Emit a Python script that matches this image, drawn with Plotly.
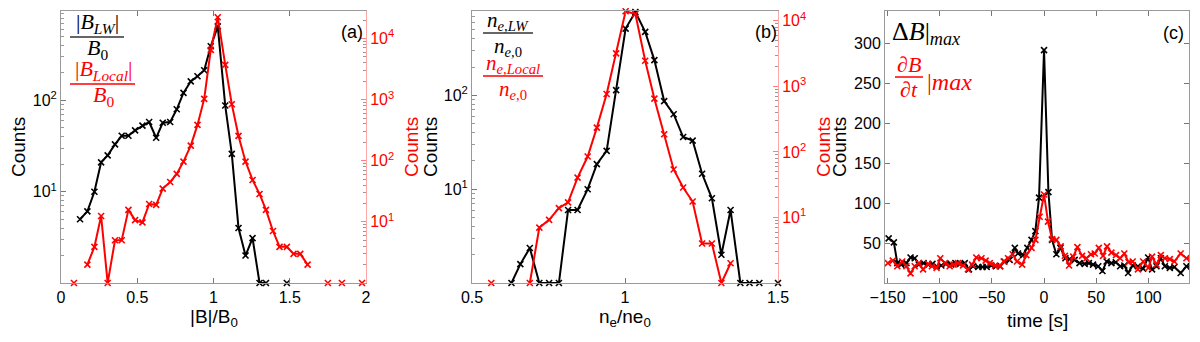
import plotly.graph_objects as go

W, H = 1200, 342
OFF = 8  # page body margin shifts the plot div by 8 px
RED = "#ff0000"
SANS = "Liberation Sans, Arial, sans-serif"
SERIF = "Liberation Serif, DejaVu Serif, serif"

# ---- panel (a): |B|/B0 histograms (None = empty bin, not drawn on log axis)
b_bins = [0.085, 0.125, 0.173, 0.219, 0.263, 0.306, 0.354, 0.398, 0.442, 0.486,
          0.534, 0.578, 0.624, 0.667, 0.716, 0.759, 0.803, 0.851, 0.895, 0.939,
          0.982, 1.028, 1.077, 1.12, 1.164, 1.21, 1.256, 1.302, 1.344, 1.39,
          1.433, 1.481, 1.525, 1.569, 1.617, 1.66, 1.705, 1.75, 1.795, 1.842,
          1.885, 1.93, 1.974]
b_lw_counts = [None, 5.0, 6.1, 10, 21, 25, 33, 41, 41, 47,
               53, 58, 39, 57, 58, 80, 121, 162, 184, 214,
               392, 647, 88, 26, 4.0, 2.0, 3.1, 1, 1, None,
               None, 1, None, None, None, None, None, None, None, None,
               None, None, None]
b_local_counts = [1, None, 2.0, 3.9, 12.5, 1, 5, 5, 15.7, 10.7,
                  9.8, 19.6, 19, 35, 45, 61, 97, 177, 386, 1027,
                  6500, 22300, 3700, 840, 255, 97, 48.5, 28.6, 15.7, 7.1,
                  3.9, 3.9, 3.0, 3.0, 2.0, None, None, 1, None, 1,
                  None, None, 1]

# ---- panel (b): ne/ne0 histograms
n_bins = [0.563, 0.594, 0.629, 0.658, 0.689, 0.72, 0.752, 0.784, 0.814, 0.845,
          0.878, 0.908, 0.94, 0.971, 1.002, 1.034, 1.066, 1.096, 1.128, 1.159,
          1.19, 1.221, 1.252, 1.284, 1.315, 1.345, 1.377, 1.407, 1.439, 1.47, 1.5]
n_lw_counts = [None, None, 1, 1.59, 2.36, 1, 1, 1, 6.0, 6.0,
               10, 18.5, 25.6, 114, 516, 776, 476, 238, 87, 63,
               36, 33, 14.6, 8.0, 2.0, 6.0, 1, 1, 1, None, 1]
n_local_counts = [1, None, None, None, 1, 7.0, 9.2, 13.9, 17, 40.6,
                  85, 235, 764, 3180, 14000, 12700, 2460, 650, 186, 54,
                  28.6, 17.5, 4.0, 4.0, 1, 2.0, None, None, None, None, None]

# ---- panel (c): timing of max dB and max dB/dt
t_lw = [-149, -144, -140.7, -137, -132, -128, -124, -120, -115.5, -111,
        -107, -103, -98.5, -94, -89, -85, -80.6, -76, -72, -68,
        -63, -59, -55, -50.5, -46, -42, -38, -33, -28, -25,
        -20, -16, -12, -8.3, -4.8, 0, 4.2, 7.7, 11.8, 15.7,
        20.5, 24.6, 29.4, 34, 39, 43, 47, 52, 56, 60,
        64.6, 68.8, 73, 77, 80.6, 85, 90, 95, 99.8, 103.6,
        107.8, 112, 115.8, 120.6, 125, 131, 136.5, 141]
dB_max_counts = [56, 51, 25, 23, 25, 32, 31, 23, 25, 23,
                 24, 21, 22, 24, 23, 25, 24, 25, 17, 21,
                 20, 20, 20, 22, 21, 21, 27, 29, 44, 37,
                 35, 44, 54, 65, 107, 292, 114, 54, 36, 44,
                 31, 30, 29, 25, 24, 25, 23, 21, 15, 27,
                 25, 26, 21, 22, 12.5, 22, 21, 18, 32, 17,
                 21, 31, 21, 19, 20, 12.5, 21, 21]
t_local = [-149.7, -145, -140.7, -136, -132, -128, -124, -120, -116, -111,
           -107.5, -103, -99.5, -95, -90.5, -86.7, -82.5, -77.7, -73, -69,
           -65, -60, -56, -52, -47, -42.5, -38.7, -34.5, -30, -26,
           -21, -17, -12, -8.3, -4.2, 0, 3.8, 7.7, 11.8, 16,
           20, 24, 28, 32, 36.5, 40.6, 45, 48.6, 52.5, 56.6,
           60.4, 64.6, 69, 73, 77, 81, 85, 90, 95, 100,
           103.6, 107.8, 112, 115.8, 120.6, 125, 131, 136.5, 141]
dBdt_max_counts = [25, 28, 21, 27, 21, 12, 21, 25, 17, 24,
                   21, 19, 31, 25, 21, 23, 25, 22, 17, 23,
                   32, 31, 28, 25, 22, 21, 27, 31, 36, 27,
                   23, 35, 44, 54, 83, 111, 77, 55, 54, 46,
                   34, 22, 33, 45, 34, 31, 36, 37, 44, 34,
                   46, 38, 35, 31, 37, 26, 27, 17, 27, 19,
                   33, 23, 35, 31, 30, 27, 37, 31, 31]

log_minor = [k * 10 ** d for d in range(0, 5) for k in range(2, 10)]


def px(x, y):
    # screen pixel -> paper coords
    return (x - OFF) / W, 1 - (y - OFF) / H


def xdom(x0, x1):
    return [px(x0, 0)[0], px(x1, 0)[0]]


def line_trace(x, y, color, xa, ya, clip=False):
    return go.Scatter(
        x=x, y=y, xaxis=xa, yaxis=ya, mode="lines+markers",
        line=dict(color=color, width=2),
        marker=dict(symbol="x-thin", size=6, line=dict(width=1.6, color=color)),
        cliponaxis=clip, showlegend=False, hoverinfo="skip",
    )


fig = go.Figure()
fig.add_trace(line_trace(b_bins, b_lw_counts, "black", "x", "y"))
fig.add_trace(line_trace(b_bins, b_local_counts, RED, "x", "y2"))
fig.add_trace(line_trace(n_bins, n_lw_counts, "black", "x2", "y3"))
fig.add_trace(line_trace(n_bins, n_local_counts, RED, "x2", "y4"))
fig.add_trace(line_trace(t_lw, dB_max_counts, "black", "x3", "y5", clip=True))
fig.add_trace(line_trace(t_local, dBdt_max_counts, RED, "x3", "y5", clip=True))

ydom = [px(0, 283)[1], px(0, 11)[1]]
base = dict(showline=True, linecolor="#9a9a9a", linewidth=1, ticks="inside",
            ticklen=5, tickcolor="#777", showgrid=False, zeroline=False,
            automargin=False,
            tickfont=dict(family=SANS, size=16, color="black"))
red_axis = dict(base, linecolor="rgba(255,0,0,0.35)", tickcolor="rgba(255,0,0,0.5)",
                tickfont=dict(family=SANS, size=16, color=RED))


def log_ticks(n):
    return dict(tickvals=[10 ** k for k in range(1, n + 1)],
                ticktext=["10<sup>%d</sup>" % k for k in range(1, n + 1)],
                minor=dict(ticks="inside", ticklen=3, tickvals=log_minor,
                           tickcolor="#999", showgrid=False))


fig.update_layout(
    width=W, height=H, margin=dict(l=0, r=0, t=0, b=0, autoexpand=False),
    plot_bgcolor="white", paper_bgcolor="white",
    xaxis=dict(base, domain=xdom(61, 366), range=[0, 2], anchor="y",
               tickvals=[0, 0.5, 1, 1.5, 2], mirror="ticks"),
    yaxis=dict(base, domain=ydom, type="log", range=[0, 2.98], anchor="x",
               **log_ticks(2)),
    yaxis2=dict(red_axis, type="log", range=[0, 4.45], overlaying="y",
                side="right", anchor="x", **log_ticks(4)),
    xaxis2=dict(base, domain=xdom(472, 778), range=[0.5, 1.5], anchor="y3",
                tickvals=[0.5, 1, 1.5], mirror="ticks"),
    yaxis3=dict(base, domain=ydom, type="log", range=[0, 2.9], anchor="x2",
                **log_ticks(2)),
    yaxis4=dict(red_axis, type="log", range=[0, 4.15], overlaying="y3",
                side="right", anchor="x2", **log_ticks(4)),
    xaxis3=dict(base, domain=xdom(885, 1189), range=[-152.5, 139],
                anchor="y5", tickvals=[-150, -100, -50, 0, 50, 100], mirror="ticks"),
    yaxis5=dict(base, domain=ydom, range=[0, 341], anchor="x3",
                tickvals=[50, 100, 150, 200, 250, 300], mirror="ticks"),
)


def text(x, y, s, size=19, color="black", family=SANS, angle=0, anchor="center"):
    xx, yy = px(x, y)
    fig.add_annotation(x=xx, y=yy, xref="paper", yref="paper", text=s,
                       showarrow=False, textangle=angle, xanchor=anchor,
                       yanchor="middle", borderpad=0,
                       font=dict(family=family, size=size, color=color))


def frac_bar(x0, x1, y, color):
    a0, b0 = px(x0, y)
    a1, _ = px(x1, y)
    fig.add_shape(type="line", xref="paper", yref="paper", x0=a0, x1=a1,
                  y0=b0, y1=b0, line=dict(color=color, width=1.5))


# axis titles
text(214, 318, "|B|/B<sub>0</sub>")
text(625, 318, "n<sub>e</sub>/ne<sub>0</sub>")
text(1037, 320, "time [s]")
text(18, 147, "Counts", angle=-90)
text(411, 147, "Counts", color=RED, angle=-90)
text(430, 147, "Counts", angle=-90)
text(823, 147, "Counts", color=RED, angle=-90)
text(839, 147, "Counts", angle=-90)

# panel tags
text(352, 32, "(a)", size=18)
text(766, 32, "(b)", size=18)
text(1173, 33, "(c)", size=18)

# panel (a) legend fractions
text(97, 23, "|<i>B</i><sub><i>LW</i></sub>|", size=22, family=SERIF)
frac_bar(70, 124, 37, "#333")
text(97, 49, "<i>B</i><sub>0</sub>", size=22, family=SERIF)
text(103, 70, "|<i>B</i><sub><i>Local</i></sub>|", size=22, color=RED, family=SERIF)
frac_bar(70, 135, 84, RED)
text(103, 96, "<i>B</i><sub>0</sub>", size=22, color=RED, family=SERIF)

# panel (b) legend fractions
text(508, 21, "<i>n</i><sub><i>e,LW</i></sub>", size=21, family=SERIF)
frac_bar(483, 533, 33, "#333")
text(508, 47, "<i>n</i><sub><i>e,</i>0</sub>", size=21, family=SERIF)
text(513, 64, "<i>n</i><sub><i>e,Local</i></sub>", size=21, color=RED, family=SERIF)
frac_bar(483, 543, 76, RED)
text(513, 90, "<i>n</i><sub><i>e,</i>0</sub>", size=21, color=RED, family=SERIF)

# panel (c) legend
text(891, 33, "Δ<i>B</i>|<sub><i>max</i></sub>", size=26, family=SERIF, anchor="left")
text(909, 65, "∂<i>B</i>", size=22, color=RED, family=SERIF)
frac_bar(895, 923, 77, RED)
text(909, 90, "∂<i>t</i>", size=22, color=RED, family=SERIF)
text(926, 82, "|<i>max</i>", size=24, color=RED, family=SERIF, anchor="left")

fig.write_html("out.html")
